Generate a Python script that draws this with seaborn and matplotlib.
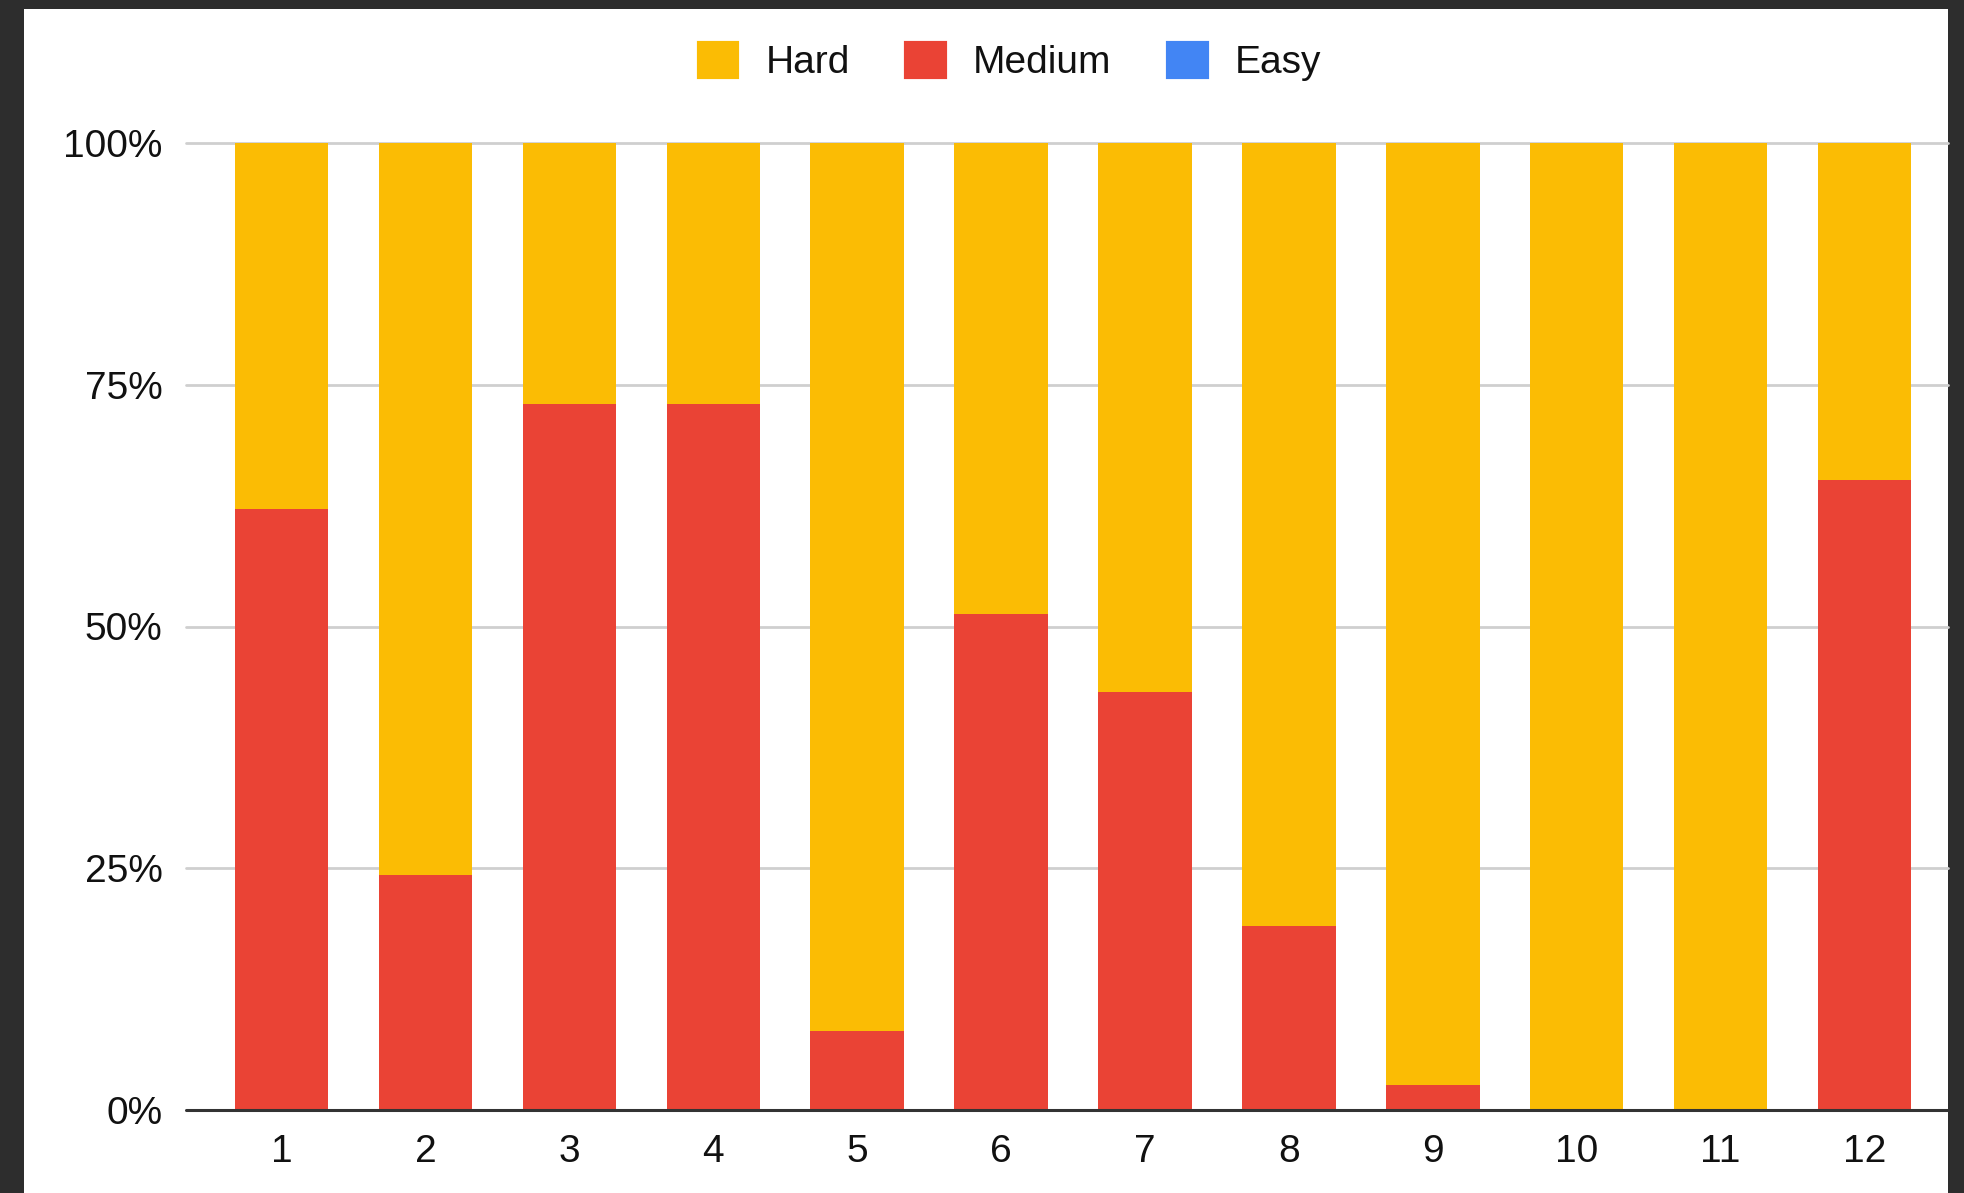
import matplotlib
matplotlib.use("Agg")
import matplotlib.pyplot as plt
from matplotlib.patches import Patch, Rectangle
from matplotlib.ticker import PercentFormatter
import numpy as np
import pandas as pd
import seaborn as sns

# ---- data (percent of each group) ----
groups = ["1", "2", "3", "4", "5", "6", "7", "8", "9", "10", "11", "12"]
medium = [62.1, 24.3, 73.0, 73.0, 8.2, 51.3, 43.2, 19.0, 2.6, 0.0, 0.0, 65.1]
hard = [37.9, 75.7, 27.0, 27.0, 91.8, 48.7, 56.8, 81.0, 97.4, 100.0, 100.0, 34.9]
easy = [0.0] * 12
series_names = ["Hard", "Medium", "Easy"]
yticks = [0, 25, 50, 75, 100]

# ---- colours ----
C_HARD = "#FBBC04"
C_MED = "#EA4335"
C_EASY = "#4285F4"
BG_DARK = "#2d2d2d"
TXT = "#111111"

sns.set_theme(style="white")
plt.rcParams["font.family"] = ["Liberation Sans", "DejaVu Sans"]

df = pd.DataFrame({"group": groups, "Medium": medium, "Hard": hard, "Easy": easy})
df["top_med"] = df["Medium"]
df["top_hard"] = df["Medium"] + df["Hard"]
df["top_easy"] = df["top_hard"] + df["Easy"]

W, H = 1964, 1193
fig = plt.figure(figsize=(W / 100, H / 100), dpi=100, facecolor=BG_DARK)
# white card inside the dark frame
fig.patches.append(Rectangle((24 / W, 0), (1948 - 24) / W, (H - 9) / H,
                             transform=fig.transFigure, facecolor="white",
                             edgecolor="none", zorder=-10))

ax = fig.add_axes([186 / W, 83 / H, (1948 - 186) / W, (1110 - 143) / H])
ax.set_facecolor("none")

bw = 0.65
sns.barplot(data=df, x="group", y="top_easy", color=C_EASY, width=bw,
            saturation=1, ax=ax, zorder=2, linewidth=0)
sns.barplot(data=df, x="group", y="top_hard", color=C_HARD, width=bw,
            saturation=1, ax=ax, zorder=3, linewidth=0)
sns.barplot(data=df, x="group", y="top_med", color=C_MED, width=bw,
            saturation=1, ax=ax, zorder=4, linewidth=0)

ax.set_xlim(-0.664, 11.58)
ax.set_ylim(0, 100)
ax.set_yticks(yticks)
ax.yaxis.set_major_formatter(PercentFormatter(decimals=0))
ax.set_xlabel("")
ax.set_ylabel("")

for y in yticks[1:]:
    ax.axhline(y, color="#cfcfcf", linewidth=2, zorder=1, clip_on=False)
ax.axhline(0, color="#333333", linewidth=2.2, zorder=6, clip_on=False)

for s in ax.spines.values():
    s.set_visible(False)

ax.tick_params(axis="both", length=0, labelsize=28, colors=TXT)
ax.tick_params(axis="y", pad=17)
ax.tick_params(axis="x", pad=17)

handles = [Patch(facecolor=c, edgecolor=c, linewidth=3, joinstyle="round", label=n)
           for c, n in zip([C_HARD, C_MED, C_EASY], series_names)]
fig.legend(handles=handles, loc="center", bbox_to_anchor=(1010 / W, 1 - 62 / H),
           ncol=3, frameon=False, fontsize=28, handlelength=1.0, handleheight=1.0,
           handletextpad=0.72, columnspacing=1.45, labelcolor=TXT)

fig.savefig("out.png", dpi=100, facecolor=BG_DARK)
